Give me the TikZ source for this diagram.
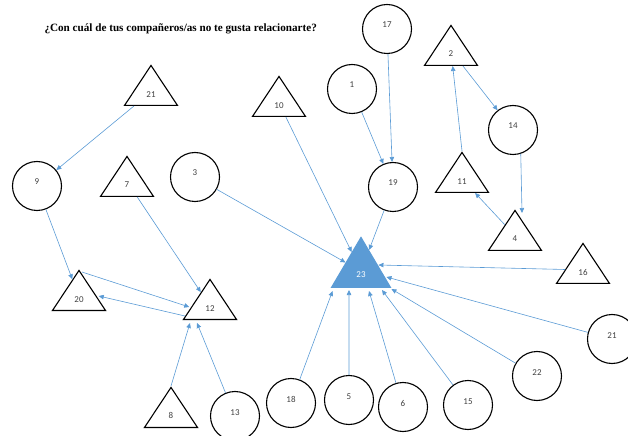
\documentclass[tikz,border=0pt]{standalone}
\usepackage{fontspec}
\setmainfont{Liberation Serif}
\newfontfamily\labelfont{Carlito}
\usetikzlibrary{shapes.geometric,arrows.meta}
\definecolor{officeblue}{RGB}{91,155,213}
\definecolor{labelgray}{RGB}{64,64,64}
\begin{document}
\begin{tikzpicture}[x=1bp,y=-1bp]

\tikzstyle{person} = [draw, circle, line width=1.1bp, minimum size=49bp, inner sep=0pt, text=labelgray, font=\labelfont\fontsize{9}{10}\selectfont, text height=6bp, text depth=8bp]
\tikzstyle{tri} = [draw, isosceles triangle, isosceles triangle stretches, shape border rotate=90, line width=1.1bp, minimum width=53bp, minimum height=40bp, inner sep=0pt, anchor=lower side, text=labelgray, font=\labelfont\fontsize{9}{10}\selectfont, text height=12bp, text depth=0bp]
\tikzstyle{link} = [-{Triangle[width=4.5bp,length=5bp]}, officeblue, line width=0.6bp]

\useasboundingbox (0,0) rectangle (628,436);

\node [anchor=west, font=\bfseries\fontsize{11.2}{13}\selectfont] (title) at (41,29) {¿Con cuál de tus compañeros/as no te gusta relacionarte?};

% triangles
\node [tri] (t21) at (151,106) {21};
\node [tri] (t10) at (279,117) {10};
\node [tri] (t7) at (127,197) {7};
\node [tri] (t2) at (451,66) {2};
\node [tri] (t11) at (462,193) {11};
\node [tri] (t4) at (515,251) {4};
\node [tri] (t16) at (583,284) {16};
\node [tri] (t20) at (79,311) {20};
\node [tri] (t12) at (210,320) {12};
\node [tri] (t8) at (171,428) {8};
\node [tri, fill=officeblue, draw=officeblue, text=white, minimum width=59bp, minimum height=50bp] (t23) at (361,288) {23};

% circles
\node [person] (c17) at (387,29) {17};
\node [person] (c1) at (352,89) {1};
\node [person] (c19) at (393,187) {19};
\node [person] (c14) at (513,130) {14};
\node [person] (c9) at (37,186) {9};
\node [person] (c3) at (195,177) {3};
\node [person] (c13) at (235,416) {13};
\node [person] (c18) at (291,403) {18};
\node [person] (c5) at (349,400) {5};
\node [person] (c6) at (403,407) {6};
\node [person] (c15) at (468,405) {15};
\node [person] (c22) at (537,376) {22};
\node [person] (c21) at (612,339) {21};

% rejections
\draw [link] (t21) -- (c9);
\draw [link] (c9) -- (t20);
\draw [link] (t7) -- (t12);
\draw [link] ([xshift=3bp,yshift=-3bp]t20.apex) -- ([xshift=-7bp,yshift=-8bp]t12.left side);
\draw [link] ([xshift=2.5bp,yshift=4bp]t12.left corner) -- ([xshift=6bp,yshift=-6bp]t20.right side);
\draw [link] (t8.apex) -- ([xshift=-20bp,yshift=-3bp]t12.lower side);
\draw [link] (c13) -- ([xshift=-13bp,yshift=-3bp]t12.lower side);
\draw [link] (c3) -- (t23);
\draw [link] (t10) -- (t23);
\draw [link] (c1) -- (c19);
\draw [link] (c17) -- (c19);
\draw [link] (c19) -- (t23);
\draw [link] (t11.apex) -- (t2);
\draw [link] (t2) -- (c14);
\draw [link] (c14.-72) -- ([xshift=7bp,yshift=-4bp]t4.apex);
\draw [link] (t4) -- (t11);
\draw [link] (t16) -- ([xshift=-13bp,yshift=23bp]t23.right corner);
\draw [link] (c21) -- ([xshift=-5bp,yshift=11bp]t23.right corner);
\draw [link] (c22) -- ([yshift=-1bp]t23.right corner);
\draw [link] (c15) -- ([xshift=21bp,yshift=-2bp]t23.lower side);
\draw [link] (c6) -- ([xshift=8bp,yshift=-3bp]t23.lower side);
\draw [link] (c5) -- ([xshift=-12bp,yshift=-2bp]t23.lower side);
\draw [link] (c18) -- ([xshift=2bp,yshift=-3bp]t23.left corner);
\end{tikzpicture}
\end{document}
